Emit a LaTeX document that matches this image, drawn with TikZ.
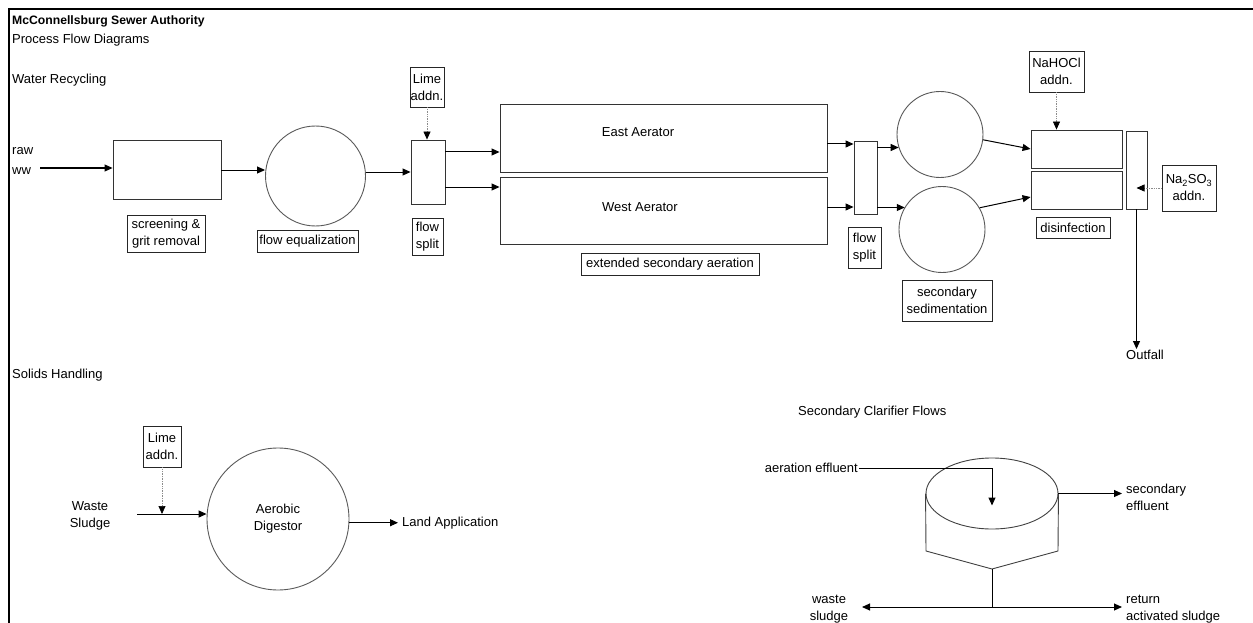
\documentclass[tikz,border=0pt]{standalone}
\usepackage{fontspec}
\setmainfont{Liberation Sans}
\usetikzlibrary{arrows.meta,calc,shapes.geometric}
\begin{document}
\begin{tikzpicture}[x=1pt,y=-1pt,font=\fontsize{13}{17}\selectfont,
  txt/.style={inner sep=1pt},
  unit/.style={draw=black!80,line width=.9pt,inner sep=0pt},
  tag/.style={draw=black!85,line width=.8pt,inner sep=0pt,align=center},
  tank/.style={circle,draw=black!65,line width=.9pt,inner sep=0pt,align=center},
  flow/.style={-{Triangle[length=8pt,width=7pt]},line width=1pt},
  feed/.style={-{Triangle[length=8pt,width=7pt,color=black]},densely dotted,draw=black!45,line width=.7pt}]
  \useasboundingbox (0,0) rectangle (1253,623);
  \draw[line width=2pt] (1253,9) -- (8.5,9) -- (8.5,623);
  \node[txt,anchor=west,font=\fontsize{12.2}{17}\selectfont\bfseries] (ttl) at (11,21) {McConnellsburg Sewer Authority};
  \node[txt,anchor=west] (sub) at (11,40) {Process Flow Diagrams};
  \node[txt,anchor=west] (wr) at (11,80) {Water Recycling};
  \node[txt,anchor=west] (sh) at (11,375) {Solids Handling};
  % water recycling line
  \node[txt,anchor=west,align=left] (raw) at (11,161) {raw\\[3pt]ww};
  \node[unit,minimum width=108,minimum height=59] (screen) at (167,170) {};
  \node[tank,minimum size=100] (equal) at (315.5,176) {};
  \node[unit,minimum width=34,minimum height=64] (splitA) at (428,172) {};
  \node[tag,minimum width=34,minimum height=40] (limeA) at (427,87) {Lime\\addn.};
  \node[tag,minimum width=78,minimum height=37] (screenLbl) at (166,233.5) {screening \&\\grit removal};
  \node[tag,minimum width=101,minimum height=22] (equalLbl) at (307.5,241) {flow equalization};
  \node[tag,minimum width=31,minimum height=37] (splitALbl) at (427.5,236.5) {flow\\split};
  \node[unit,minimum width=327,minimum height=68] (east) at (663.5,138) {};
  \node[unit,minimum width=327,minimum height=67] (west) at (663.5,210.5) {};
  \node[txt] (eastTxt) at (638,132) {East Aerator};
  \node[txt] (westTxt) at (640,207) {West Aerator};
  \node[tag,minimum width=178,minimum height=22] (aerLbl) at (670,264) {extended secondary aeration};
  \node[unit,minimum width=23,minimum height=73] (splitB) at (865.5,177.5) {};
  \node[tag,minimum width=33,minimum height=41] (splitBLbl) at (864.5,247.5) {flow\\split};
  \node[tank,minimum size=86] (sedA) at (940,134.5) {};
  \node[tank,minimum size=86] (sedB) at (942,229.5) {};
  \node[tag,minimum width=90,minimum height=41] (sedLbl) at (947,300.5) {secondary\\sedimentation};
  \node[unit,minimum width=91,minimum height=38] (disA) at (1076.5,149) {};
  \node[unit,minimum width=91,minimum height=38] (disB) at (1076.5,190) {};
  \node[tag,minimum width=74,minimum height=21] (disLbl) at (1073,227.5) {disinfection};
  \node[tag,minimum width=55,minimum height=41] (naocl) at (1056.5,71.5) {NaHOCl\\addn.};
  \node[unit,minimum width=21,minimum height=78] (dechl) at (1136.5,170) {};
  \node[tag,minimum width=54,minimum height=46] (naso) at (1189,188) {Na\textsubscript{2}SO\textsubscript{3}\\addn.};
  \node[txt] (outfall) at (1145,355) {Outfall};
  \coordinate (rawIn) at (40,168);
  \coordinate (sA1) at ($(splitA.east)+(0,-20)$);
  \coordinate (sA2) at ($(splitA.east)+(0,15)$);
  \coordinate (eOut) at ($(east.east)+(0,6)$);
  \coordinate (wOut) at ($(west.east)+(0,-3.5)$);
  \coordinate (sB1) at ($(splitB.east)+(0,-30)$);
  \coordinate (sB2) at ($(splitB.east)+(0,30)$);
  \coordinate (dB) at ($(disB.west)+(0,7)$);
  \draw[flow] (rawIn) -- (rawIn -| screen.west);
  \draw[flow] (screen.east) -- (screen.east -| equal.west);
  \draw[flow] (equal.east |- splitA.west) -- (splitA.west);
  \draw[feed] (limeA.south) -- (limeA.south |- splitA.north);
  \draw[flow] (sA1) -- (sA1 -| east.west);
  \draw[flow] (sA2) -- (sA2 -| west.west);
  \draw[flow] (eOut) -- (eOut -| splitB.west);
  \draw[flow] (wOut) -- (wOut -| splitB.west);
  \draw[flow] (sB1) -- (sB1 -| sedA.198);
  \draw[flow] (sB2) -- (sB2 -| sedB.149);
  \draw[flow] (sedA.-7) -- (disA.west);
  \draw[flow] (sedB.30) -- (dB);
  \draw[feed] (naocl.south) -- (naocl.south |- disA.north);
  \draw[feed] (naso.west) -- (naso.west -| dechl.center);
  \draw[flow] (dechl.south) -- (dechl.south |- outfall.north);
  % solids handling
  \node[tag,minimum width=38,minimum height=41] (limeB) at (162,446.5) {Lime\\addn.};
  \node[txt,align=center] (waste) at (90,516) {Waste\\Sludge};
  \node[tank,minimum size=142] (dig) at (278,519) {Aerobic\\Digestor};
  \node[txt,anchor=west,inner xsep=4pt] (land) at (398,523) {Land Application};
  \coordinate (wIn) at (137,514);
  \draw[flow] (wIn) -- (wIn -| dig.west);
  \draw[feed] (limeB.south) -- (limeB.south |- wIn);
  \draw[flow] (dig.-3) -- (dig.-3 -| land.west);
  % clarifier flows
  \node[txt,anchor=west] (clarTtl) at (797,412) {Secondary Clarifier Flows};
  \node[txt,anchor=east] (aerEff) at (859,468) {aeration effluent};
  \node[ellipse,draw=black!75,line width=.9pt,minimum width=132,minimum height=71,inner sep=0pt] (clar) at (992,493.5) {};
  \node[txt,anchor=west,align=left,inner xsep=4pt] (secEff) at (1122,497) {secondary\\effluent};
  \node[txt,align=center] (wasteS) at (829,609) {waste\\sludge};
  \node[txt,anchor=west,align=left,inner xsep=4pt] (retS) at (1122,609) {return\\activated sludge};
  \coordinate (clarIn) at ($(clar.center)+(0,12)$);
  \coordinate (hopL) at (926,551); \coordinate (hopB) at (992,569); \coordinate (hopR) at (1058,551);
  \coordinate (hub) at (992,607); \coordinate (wsEnd) at (862,607);
  \draw[flow] (aerEff.east) -- (aerEff.east -| clar.center) -- (clarIn);
  \draw[line width=.9pt,draw=black!75] (clar.west) -- (hopL) -- (hopB) -- (hopR) -- (clar.east);
  \draw[line width=1pt] (hopB) -- (hub);
  \draw[flow] (hub) -- (wsEnd);
  \draw[flow] (hub) -- (hub -| retS.west);
  \draw[flow] (clar.east) -- (clar.east -| secEff.west);
\end{tikzpicture}
\end{document}
